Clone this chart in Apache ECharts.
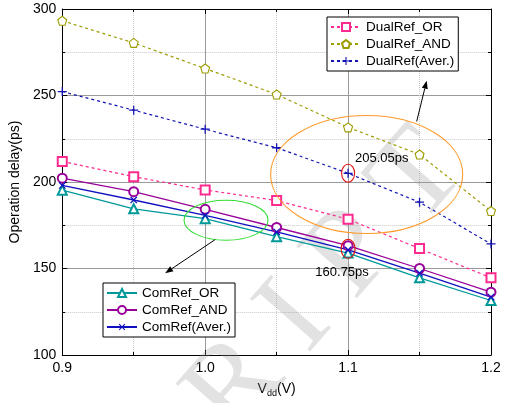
<!DOCTYPE html>
<html><head><meta charset="utf-8">
<script src="https://cdn.jsdelivr.net/npm/echarts@6/dist/echarts.min.js"></script>
<style>html,body{margin:0;background:#fff}#chart{width:505px;height:403px}</style>
</head><body><div id="chart"></div>
<script>
// Vdd sweep (V) and delay readings (ps)
const vdd = [0.9, 0.95, 1.0, 1.05, 1.1, 1.15, 1.2];
const dualOr = [211.9, 203.1, 195.4, 189.3, 178.5, 161.5, 144.6];
const dualAnd = [293.2, 280.4, 265.6, 250.6, 231.6, 215.9, 183.2];
const dualAver = [252.3, 241.5, 230.5, 219.8, 205.05, 188.3, 164.2];
const comOr = [195.3, 184.5, 178.8, 168.4, 158.9, 144.6, 131.5];
const comAnd = [202.2, 194.4, 184.2, 173.7, 163.2, 150.0, 136.3];
const comAver = [198.0, 189.6, 180.7, 171.2, 160.75, 147.3, 133.5];
const xTicks = ["0.9", "1.0", "1.1", "1.2"];

const FONT = "Arial, 'Liberation Sans', sans-serif";
const PLUS = "path://M4.3,0h1.4v4.3h4.3v1.4h-4.3v4.3h-1.4v-4.3h-4.3v-1.4h4.3z";
const PENTA = "path://M5,0L10,3.7L8.1,9.6L1.9,9.6L0,3.7Z";

const chart = echarts.init(document.getElementById("chart"));

function line(name, data, color, symbol, dashed, opts) {
  return Object.assign({
    name, type: "line",
    data: vdd.map((x, i) => [x, data[i]]),
    symbol, symbolSize: 9,
    showAllSymbol: true,
    lineStyle: { color, width: dashed ? 1.2 : 1.3, type: dashed ? [3, 3] : "solid" },
    itemStyle: { color, borderColor: color },
    emphasis: { disabled: true },
    z: 3
  }, opts || {});
}

const filledPath = (color) => ({ itemStyle: { color, borderColor: color, borderWidth: 0 } });
const hollowPath = (color) => ({ itemStyle: { color: "#fff", borderColor: color, borderWidth: 1.1 } });

const series = [
  line("DualRef_OR", dualOr, "#ff2a90", "emptyRect", true),
  line("DualRef_AND", dualAnd, "#9c9c00", PENTA, true, hollowPath("#9c9c00")),
  line("DualRef(Aver.)", dualAver, "#1414b4", PLUS, true, filledPath("#1414b4")),
  line("ComRef_OR", comOr, "#00999a", "emptyTriangle", false),
  line("ComRef_AND", comAnd, "#990099", "emptyCircle", false),
  line("ComRef(Aver.)", comAver, "#1010c0", PLUS, false,
    Object.assign({ symbolRotate: 45 }, filledPath("#1010c0")))
];

const legendBase = {
  orient: "vertical",
  itemWidth: 30, itemHeight: 10, itemGap: 3,
  padding: [3, 4, 3, 3],
  borderColor: "#000", borderWidth: 1, borderRadius: 0,
  backgroundColor: "#fff",
  textStyle: { fontFamily: FONT, fontSize: 13.5, color: "#000" },
  selectedMode: false
};

const xBase = {
  type: "value", min: 0.9, max: 1.2, interval: 0.1,
  axisLine: { lineStyle: { color: "#000", width: 1 } },
  axisTick: { inside: true, length: 5, lineStyle: { color: "#000" } },
  minorTick: { show: true, splitNumber: 2, length: 3, lineStyle: { color: "#000" } }
};
const yBase = {
  type: "value", min: 100, max: 300, interval: 50,
  axisLine: { show: true, lineStyle: { color: "#000", width: 1 } },
  axisTick: { show: true, inside: true, length: 5, lineStyle: { color: "#000" } },
  minorTick: { show: true, splitNumber: 2, length: 3, lineStyle: { color: "#000" } }
};

chart.setOption({
  animation: false,
  backgroundColor: "#fff",
  grid: { left: 59, top: 9, right: 14, bottom: 43 },
  legend: [
    Object.assign({ left: 327, top: 17, data: ["DualRef_OR", "DualRef_AND", "DualRef(Aver.)"] }, legendBase),
    Object.assign({ left: 103, top: 283, data: ["ComRef_OR", "ComRef_AND", "ComRef(Aver.)"] }, legendBase)
  ],
  xAxis: [
    Object.assign({}, xBase, {
      position: "bottom",
      name: "V{s|dd}(V)", nameLocation: "middle", nameGap: 26,
      nameTextStyle: { fontFamily: FONT, fontSize: 14, color: "#000",
        rich: { s: { fontFamily: FONT, fontSize: 9, color: "#000", verticalAlign: "bottom", padding: [8, 0, 0, 0] } } },
      axisLabel: { fontFamily: FONT, fontSize: 14, color: "#000", margin: 6,
        formatter: (v) => xTicks.find((t) => Math.abs(parseFloat(t) - v) < 1e-6) || "" },
      splitLine: { show: true, lineStyle: { color: "#9a9a9a", width: 1 } },
      minorSplitLine: { show: true, lineStyle: { color: "#c8c8c8", type: [1, 1], width: 1 } }
    }),
    Object.assign({}, xBase, { position: "top", axisLabel: { show: false }, splitLine: { show: false } })
  ],
  yAxis: [
    Object.assign({}, yBase, {
      position: "left",
      name: "Operation delay(ps)", nameLocation: "middle", nameGap: 37,
      nameTextStyle: { fontFamily: FONT, fontSize: 14, color: "#000" },
      axisLabel: { fontFamily: FONT, fontSize: 14, color: "#000", margin: 6 },
      splitLine: { show: true, lineStyle: { color: "#9a9a9a", width: 1 } },
      minorSplitLine: { show: true, lineStyle: { color: "#c8c8c8", type: [1, 1], width: 1 } }
    }),
    Object.assign({}, yBase, { position: "right", axisLabel: { show: false }, splitLine: { show: false } })
  ],
  series
});

// annotations placed from data coordinates
const px = (x, y) => chart.convertToPixel({ xAxisIndex: 0, yAxisIndex: 0 }, [x, y]);

function arrow(from, to, color) {
  const a = px(from[0], from[1]), b = px(to[0], to[1]);
  const dx = b[0] - a[0], dy = b[1] - a[1], len = Math.hypot(dx, dy);
  const ux = dx / len, uy = dy / len, L = 8, W = 3;
  const base = [b[0] - ux * L, b[1] - uy * L];
  return [
    { type: "line", shape: { x1: a[0], y1: a[1], x2: base[0], y2: base[1] }, style: { stroke: color, lineWidth: 1 }, z: 10 },
    { type: "polygon", shape: { points: [b, [base[0] - uy * W, base[1] + ux * W], [base[0] + uy * W, base[1] - ux * W]] }, style: { fill: color }, z: 10 }
  ];
}
function ellipse(c, rx, ry, color) {
  const p = px(c[0], c[1]);
  return { type: "ellipse", shape: { cx: p[0], cy: p[1], rx, ry }, style: { fill: null, stroke: color, lineWidth: 1.1 }, z: 10 };
}
function label(c, text) {
  const p = px(c[0], c[1]);
  return { type: "text", x: p[0], y: p[1], style: { text, fontFamily: FONT, fontSize: 13, fill: "#000", align: "center", verticalAlign: "middle" }, z: 10 };
}

const wm = px(1.085, 141);
chart.setOption({
  graphic: [
    { type: "text", x: wm[0], y: wm[1], rotation: 0.85,
      style: { text: "R I P T", fontFamily: "'Liberation Serif', serif", fontSize: 122,
        fill: "rgba(150,150,150,0.28)", align: "center", verticalAlign: "middle" }, z: 1, silent: true },
    ellipse([1.113, 204.3], 96, 59, "#ff9a2a"),
    ellipse([1.0146, 177.9], 42, 20, "#33dd33"),
    ellipse([1.1, 205.05], 6.5, 9, "#dd1111"),
    ellipse([1.1, 161.4], 7, 9.5, "#dd1111"),
    label([1.1236, 213.4], "205.05ps"),
    label([1.0958, 147.9], "160.75ps"),
    ...arrow([1.148, 235], [1.155, 258.5], "#000"),
    ...arrow([1.007, 166.7], [0.972, 147.3], "#000")
  ]
});
</script>
</body></html>
